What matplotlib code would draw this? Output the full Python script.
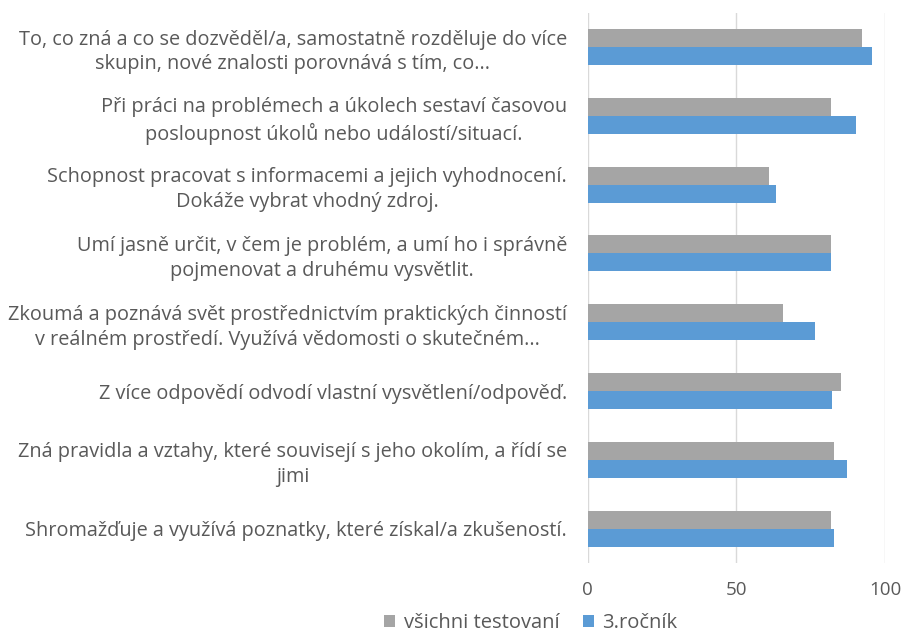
import matplotlib

matplotlib.use("Agg")

import matplotlib.pyplot as plt
import matplotlib.transforms as mtransforms
import numpy as np

plt.rcParams["font.family"] = ["Open Sans", "Lato", "DejaVu Sans"]

TEXT = "#595959"
GRID = "#d9d9d9"
GRAY = "#a5a5a5"
BLUE = "#5b9bd5"

kategorie = [
    "To, co zná a co se dozvěděl/a, samostatně rozděluje do více\nskupin, nové znalosti porovnává s tím, co...",
    "Při práci na problémech a úkolech sestaví časovou\nposloupnost úkolů nebo událostí/situací.",
    "Schopnost pracovat s informacemi a jejich vyhodnocení.\nDokáže vybrat vhodný zdroj.",
    "Umí jasně určit, v čem je problém, a umí ho i správně\npojmenovat a druhému vysvětlit.",
    "Zkoumá a poznává svět prostřednictvím praktických činností\nv reálném prostředí. Využívá vědomosti o skutečném...",
    "Z více odpovědí odvodí vlastní vysvětlení/odpověď.",
    "Zná pravidla a vztahy, které souvisejí s jeho okolím, a řídí se\njimi",
    "Shromažďuje a využívá poznatky, které získal/a zkušeností.",
]
vsichni = [92.2, 81.9, 61.1, 81.9, 65.8, 85.2, 82.8, 81.9]
rocnik3 = [95.6, 90.4, 63.4, 81.9, 76.3, 82.3, 87.1, 82.8]

fig = plt.figure(figsize=(9.03, 6.32), dpi=100)
ax = fig.add_axes([0.651, 0.109, 0.329, 0.871])

y = np.arange(len(kategorie))
h = 0.262
ax.barh(y - h / 2, vsichni, height=h, color=GRAY, label="všichni testovaní")
ax.barh(y + h / 2, rocnik3, height=h, color=BLUE, label="3.ročník")

ax.set_xlim(0, 100)
ax.set_ylim(len(kategorie) - 0.5, -0.5)
ax.set_xticks([0, 50, 100])
ax.set_yticks(y)
ax.set_yticklabels(kategorie, fontsize=14.3, color=TEXT, linespacing=1.32)
posun = mtransforms.ScaledTranslation(0, 4 / 72, fig.dpi_scale_trans)
for lab in ax.get_yticklabels():
    lab.set_multialignment("center")
    lab.set_transform(lab.get_transform() + posun)
ax.tick_params(axis="y", length=0, pad=15)
ax.tick_params(axis="x", length=0, pad=13, labelsize=13.5, labelcolor=TEXT)
for s in ax.spines.values():
    s.set_visible(False)
ax.grid(True, axis="x", color=GRID, linewidth=1)
ax.set_axisbelow(True)

fig.legend(
    loc="center", bbox_to_anchor=(0.588, 0.014), ncol=2, frameon=False,
    fontsize=14.5, labelcolor=TEXT, handlelength=0.55, handleheight=0.55,
    handletextpad=0.4, columnspacing=1.2,
)

fig.savefig("out.png", dpi=100)
